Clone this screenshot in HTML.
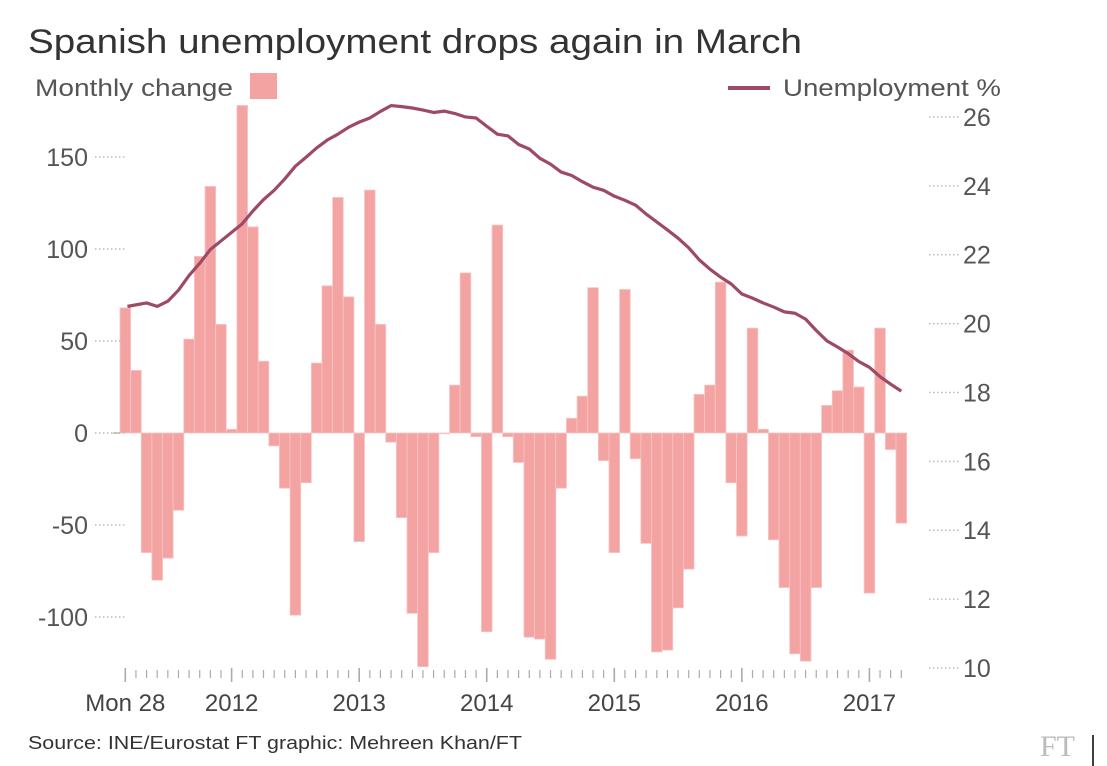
<!DOCTYPE html>
<html><head><meta charset="utf-8"><style>
html,body{margin:0;padding:0;background:#fff;width:1107px;height:766px;overflow:hidden}
svg{display:block;font-family:"Liberation Sans",sans-serif}
</style></head><body>
<svg id="chart" width="1107" height="766" viewBox="0 0 1107 766">
<text x="28" y="53" font-size="34" fill="#333" textLength="774" lengthAdjust="spacingAndGlyphs">Spanish unemployment drops again in March</text>
<text x="35" y="96" font-size="24" fill="#555" textLength="198" lengthAdjust="spacingAndGlyphs">Monthly change</text>
<rect x="250" y="73" width="27" height="26" fill="#f4a3a3"/>
<line x1="728" y1="88" x2="770" y2="88" stroke="#9e4a64" stroke-width="4"/>
<text x="783" y="96" font-size="24" fill="#555" textLength="218" lengthAdjust="spacingAndGlyphs">Unemployment %</text>
<g id="bars"></g>
<g id="axes"></g>
<path id="uline" fill="none" stroke="#9e4a64" stroke-width="3.2" stroke-linejoin="round"/>
<text x="28" y="749" font-size="18" fill="#333" textLength="494" lengthAdjust="spacingAndGlyphs">Source: INE/Eurostat FT graphic: Mehreen Khan/FT</text>
<text x="1040" y="756" font-size="30" fill="#bbb" font-family="Liberation Serif,serif">FT</text>
<line x1="1093" y1="735" x2="1093" y2="766" stroke="#000" stroke-width="1.5"/>
</svg>
<script>
const monthlyChange=[68,34,-65,-80,-68,-42,51,96,134,59,2,178,112,39,-7,-30,-99,-27,38,80,128,74,-59,132,59,-5,-46,-98,-127,-65,0,26,87,-2,-108,113,-2,-16,-111,-112,-123,-30,8,20,79,-15,-65,78,-14,-60,-119,-118,-95,-74,21,26,82,-27,-56,57,2,-58,-84,-120,-124,-84,15,23,45,25,-87,57,-9,-49];
const unemployment=[20.5,20.6,20.5,20.65,20.97,21.4,21.75,22.15,22.4,22.65,22.9,23.27,23.6,23.87,24.2,24.57,24.83,25.1,25.33,25.5,25.7,25.85,25.97,26.16,26.33,26.3,26.26,26.2,26.13,26.17,26.1,26.0,25.97,25.73,25.5,25.45,25.2,25.07,24.8,24.63,24.4,24.3,24.12,23.96,23.87,23.7,23.58,23.44,23.18,22.95,22.72,22.48,22.2,21.85,21.58,21.35,21.15,20.86,20.74,20.6,20.48,20.34,20.3,20.13,19.8,19.5,19.32,19.13,18.9,18.73,18.46,18.24,18.04];
const leftTicks=[150,100,50,0,-50,-100];
const rightTicks=[26,24,22,20,18,16,14,12,10];
const xLabels=[["Mon 28",0],["2012",10],["2013",22],["2014",34],["2015",46],["2016",58],["2017",70]];
const NS="http://www.w3.org/2000/svg";
const X0=120,BW=10.63;
const xs=i=>X0+i*BW;
const yL=v=>433-v*1.84;
const yR=v=>668-(v-10)*34.44;
const bars=document.getElementById('bars'),axes=document.getElementById('axes');
function mk(tag,attrs,parent){const e=document.createElementNS(NS,tag);for(const k in attrs)e.setAttribute(k,attrs[k]);parent.appendChild(e);return e;}
monthlyChange.forEach((v,i)=>{
  const y=Math.min(yL(v),yL(0)),h=Math.max(Math.abs(yL(v)-yL(0)),0.8);
  const r=mk('rect',{x:xs(i),y:y,width:BW,height:h,fill:'#f4a3a3',stroke:'#f8c4c4','stroke-width':0.8},bars);
  
  
});
leftTicks.forEach(v=>{
  const l=mk('line',{x1:95,x2:126,y1:yL(v),y2:yL(v),stroke:'#bbb','stroke-dasharray':'1.5 2.5','stroke-width':1.5},axes);
  
  
  const t=mk('text',{x:88,y:yL(v)+9,'font-size':25,fill:'#555','text-anchor':'end'},axes);
  t.textContent=v;
  
  
});
rightTicks.forEach(v=>{
  const l=mk('line',{x1:929,x2:960,y1:yR(v),y2:yR(v),stroke:'#bbb','stroke-dasharray':'1.5 2.5','stroke-width':1.5},axes);
  
  
  const t=mk('text',{x:963,y:yR(v)+9,'font-size':25,fill:'#555'},axes);
  t.textContent=v;
  
  
});
monthlyChange.forEach((v,i)=>{
  const major=xLabels.some(l=>l[1]===i);
  const t=mk('line',{x1:xs(i)+BW/2,x2:xs(i)+BW/2,y1:major?668:670,y2:major?682:678,stroke:'#aaa','stroke-width':major?1.6:1.2},axes);
  
  
});
xLabels.forEach(([s,i])=>{
  const t=mk('text',{x:xs(i)+BW/2,y:711,'font-size':24,fill:'#444','text-anchor':'middle'},axes);
  t.textContent=s;
  
  
});
const zl=mk('line',{x1:113,x2:120,y1:433,y2:433,stroke:'#999','stroke-width':1},axes);


document.getElementById('uline').setAttribute('d',unemployment.map((v,i)=>(i?'L':'M')+(xs(i+1)+BW/2-10.6*(i===0?1:0)*0.8)+','+yR(v)).join(''));
</script>
</body></html>
